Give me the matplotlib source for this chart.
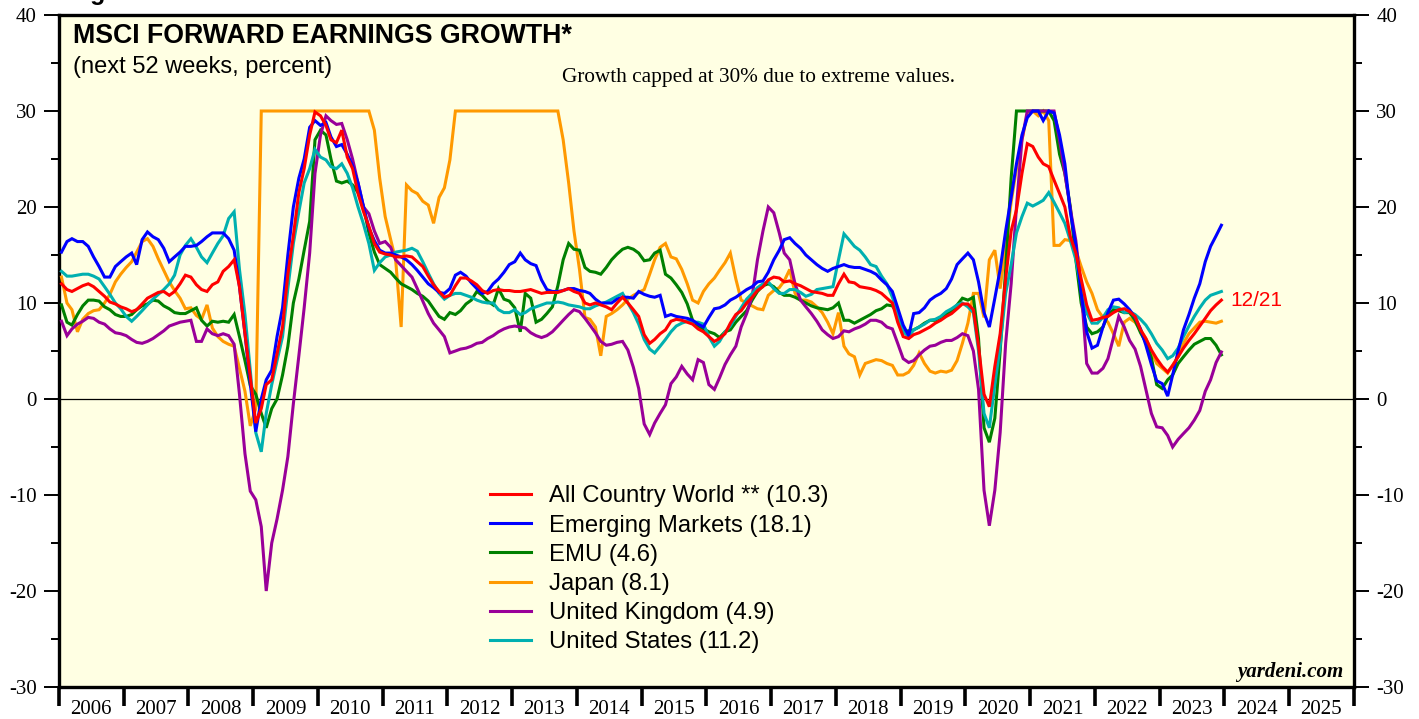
import numpy as np
import pandas as pd
import matplotlib
matplotlib.use("Agg")
import matplotlib.pyplot as plt
import matplotlib.dates as mdates
from matplotlib.ticker import MultipleLocator, NullFormatter

plt.rcParams["font.family"] = ["Liberation Sans", "DejaVu Sans"]
plt.rcParams["axes.unicode_minus"] = False

# monthly observations, Jan 2006 .. Dec 2023 (mid-month)
dates = pd.date_range("2006-01-01", "2023-12-01", freq="MS") + pd.Timedelta(days=14)

acwi = [
    12.0, 11.4, 11.2, 11.5, 11.8, 12.0, 11.7, 11.2, 10.7, 10.1, 9.9, 9.6,
    9.4, 9.1, 9.3, 9.9, 10.5, 10.8, 11.1, 11.2, 10.8, 11.2, 12.0, 12.9,
    12.7, 11.9, 11.4, 11.2, 11.9, 12.2, 13.3, 13.8, 14.5, 11.7, 6.8, 2.3,
    -2.5, -1.0, 1.5, 2.0, 4.7, 7.5, 13.0, 17.0, 21.5, 24.0, 27.5, 29.9,
    29.5, 28.5, 27.0, 26.7, 28.0, 25.2, 24.0, 21.4, 19.5, 18.0, 16.2, 15.3,
    15.1, 15.0, 14.8, 14.8, 14.9, 14.8, 14.3, 13.8, 12.8, 11.9, 11.2, 10.6,
    10.8, 11.8, 12.6, 12.6, 12.3, 11.9, 11.3, 11.0, 11.3, 11.4, 11.3, 11.3,
    11.2, 11.2, 11.3, 11.4, 11.2, 11.0, 11.1, 11.1, 11.1, 11.3, 11.5, 11.2,
    11.0, 10.0, 9.8, 10.0, 9.8, 9.6, 9.3, 10.0, 10.6, 10.0, 9.3, 8.6,
    6.7, 5.8, 6.2, 6.8, 7.2, 8.1, 8.3, 8.2, 8.0, 7.8, 7.3, 7.0,
    6.5, 6.0, 6.3, 6.8, 7.9, 8.8, 9.2, 10.0, 10.6, 11.3, 11.7, 12.4,
    12.7, 12.6, 12.2, 12.3, 12.0, 11.8, 11.5, 11.2, 11.1, 11.0, 10.8, 10.8,
    12.0, 13.0, 12.2, 12.1, 11.7, 11.6, 11.5, 11.3, 11.0, 10.5, 10.0, 8.0,
    6.5, 6.3, 6.7, 6.9, 7.2, 7.5, 7.9, 8.2, 8.6, 8.9, 9.4, 9.9,
    9.9, 9.3, 5.5, 0.5, -0.8, 3.4, 6.8, 12.5, 17.5, 19.7, 23.5, 26.6,
    26.3, 25.2, 24.5, 24.2, 22.8, 21.4, 20.0, 16.9, 15.2, 12.5, 9.8, 8.2,
    8.3, 8.5, 8.6, 9.0, 9.3, 9.4, 9.1, 8.6, 7.2, 6.3, 5.1, 4.2,
    3.4, 2.8, 3.5, 4.4, 5.3, 6.1, 6.8, 7.6, 8.4, 9.2, 9.8, 10.3,
]

em = [
    15.3, 16.4, 16.7, 16.4, 16.4, 15.9, 14.8, 13.8, 12.7, 12.7, 13.8, 14.3,
    14.8, 15.2, 14.0, 16.6, 17.4, 16.9, 16.6, 15.7, 14.3, 14.8, 15.3, 15.9,
    15.9, 16.0, 16.4, 16.9, 17.3, 17.3, 17.3, 16.7, 15.5, 11.7, 6.8, 1.6,
    -3.4, 0.0, 2.0, 3.0, 6.5, 9.5, 15.0, 20.0, 23.0, 25.0, 28.3, 29.0,
    28.5, 28.8, 27.3, 26.3, 26.5, 25.5, 24.3, 22.5, 20.0, 17.8, 16.5, 15.5,
    15.2, 15.2, 15.0, 14.8, 14.5, 14.0, 13.4, 12.7, 12.0, 11.6, 11.1, 11.0,
    11.5, 12.9, 13.2, 12.8, 12.1, 11.5, 11.0, 11.2, 12.0, 12.5, 13.2, 14.0,
    14.3, 15.2, 14.5, 14.1, 13.9, 12.4, 11.4, 11.2, 11.2, 11.3, 11.5, 11.5,
    11.3, 11.2, 11.0, 10.4, 10.0, 10.0, 10.0, 10.4, 10.6, 10.6, 10.5, 11.2,
    10.9, 10.7, 10.6, 10.8, 8.6, 8.8, 8.6, 8.5, 8.4, 8.2, 7.8, 7.5,
    8.5, 9.4, 9.5, 9.8, 10.3, 10.6, 11.0, 11.4, 11.7, 12.2, 12.3, 13.2,
    14.5, 15.5, 16.6, 16.8, 16.2, 15.7, 15.0, 14.5, 14.0, 13.6, 13.3, 13.6,
    13.8, 14.0, 13.8, 13.7, 13.7, 13.5, 13.3, 13.0, 12.4, 11.9, 11.2, 9.5,
    7.7, 6.6, 8.9, 9.0, 9.5, 10.3, 10.7, 11.0, 11.5, 12.5, 14.0, 14.6,
    15.2, 14.5, 12.2, 9.0, 7.5, 10.5, 13.5, 17.5, 21.0, 24.5, 27.5, 29.3,
    30.0, 30.0, 29.0, 30.0, 29.8, 27.5, 24.5, 19.5, 16.0, 11.0, 7.0, 5.3,
    5.6, 7.5, 9.0, 10.3, 10.4, 9.9, 9.3, 8.5, 7.3, 5.6, 3.6, 1.9,
    1.6, 0.3, 2.5, 5.0, 7.2, 8.8, 10.5, 12.0, 14.3, 15.9, 17.0, 18.1,
]

emu = [
    9.8, 8.0, 7.7, 8.8, 9.7, 10.3, 10.3, 10.2, 9.6, 9.3, 8.8, 8.6,
    8.6, 8.8, 9.3, 9.7, 9.9, 10.3, 10.2, 9.7, 9.4, 9.0, 8.9, 8.9,
    9.2, 9.5, 8.2, 7.6, 8.1, 8.0, 8.1, 8.0, 8.8, 6.5, 4.0, 1.4,
    0.5, -1.5, -3.0, -1.0, 0.0, 2.5, 5.5, 10.0, 12.5, 15.5, 18.5, 27.0,
    28.0, 27.5, 25.0, 22.7, 22.5, 22.7, 22.3, 21.5, 20.0, 17.3, 15.3, 14.0,
    13.6, 13.2, 12.6, 12.0, 11.7, 11.4, 11.0, 10.7, 10.2, 9.4, 8.6, 8.3,
    9.0, 8.8, 9.2, 9.9, 10.3, 11.2, 10.8, 10.2, 9.8, 11.5, 10.4, 10.2,
    9.5, 7.0, 11.0, 10.5, 8.0, 8.3, 8.9, 9.6, 11.8, 14.5, 16.2, 15.6,
    15.5, 13.7, 13.3, 13.2, 13.0, 13.7, 14.5, 15.1, 15.6, 15.8, 15.6, 15.2,
    14.4, 14.5, 15.2, 15.5, 13.0, 12.6, 11.9, 11.1, 9.9, 8.2, 7.6, 7.3,
    7.0, 6.8, 6.4, 7.0, 7.2, 8.0, 8.6, 9.2, 10.3, 11.2, 11.8, 12.0,
    11.7, 11.1, 10.8, 10.8, 10.6, 10.3, 10.0, 9.7, 9.5, 9.4, 9.3, 9.5,
    10.0, 8.2, 8.2, 7.9, 8.2, 8.5, 8.8, 9.2, 9.4, 9.8, 9.7, 8.9,
    7.0, 7.1, 7.2, 7.5, 7.9, 8.2, 8.2, 8.5, 8.8, 9.1, 9.8, 10.5,
    10.3, 10.6, 6.3, -3.0, -4.5, -2.0, 5.0, 13.5, 23.0, 30.0, 30.0, 30.0,
    30.0, 30.0, 30.0, 30.0, 29.0, 25.5, 23.5, 20.0, 14.5, 10.0, 7.5, 6.8,
    7.0, 7.5, 8.8, 9.3, 9.2, 9.0, 9.0, 8.2, 6.9, 5.9, 4.3, 1.5,
    1.1, 2.0, 2.5, 3.7, 4.4, 5.1, 5.7, 6.0, 6.3, 6.3, 5.6, 4.6,
]

japan = [
    12.7, 10.0, 9.3, 7.0, 8.3, 8.9, 9.2, 9.3, 10.0, 10.9, 12.2, 13.0,
    13.7, 14.3, 15.3, 16.4, 16.7, 15.9, 14.6, 13.4, 12.2, 11.3, 10.5, 9.4,
    9.5, 8.7, 8.3, 9.8, 7.4, 6.5, 6.0, 5.7, 5.5, 3.2, 0.8, -2.8,
    -1.0, 30.0, 30.0, 30.0, 30.0, 30.0, 30.0, 30.0, 30.0, 30.0, 30.0, 30.0,
    30.0, 30.0, 30.0, 30.0, 30.0, 30.0, 30.0, 30.0, 30.0, 30.0, 28.0, 23.0,
    19.0, 16.6, 14.5, 7.5, 22.3, 21.7, 21.4, 20.6, 20.2, 18.3, 21.0, 22.0,
    24.9, 30.0, 30.0, 30.0, 30.0, 30.0, 30.0, 30.0, 30.0, 30.0, 30.0, 30.0,
    30.0, 30.0, 30.0, 30.0, 30.0, 30.0, 30.0, 30.0, 30.0, 27.0, 22.5, 17.5,
    13.5, 8.5, 8.3, 7.5, 4.5, 8.6, 8.9, 9.3, 9.8, 10.4, 10.8, 11.1,
    11.4, 13.0, 14.5, 15.8, 16.2, 14.8, 14.6, 13.5, 12.0, 10.3, 10.0, 11.2,
    12.0, 12.6, 13.4, 14.2, 15.2, 12.5, 10.3, 10.0, 9.7, 9.4, 9.3, 10.8,
    11.3, 11.6, 12.3, 13.5, 11.0, 10.3, 10.3, 10.1, 9.6, 9.0, 8.0, 6.8,
    9.0, 5.5, 4.7, 4.4, 2.5, 3.7, 3.9, 4.1, 4.0, 3.7, 3.5, 2.5,
    2.5, 2.8, 3.5, 4.8, 3.7, 2.9, 2.7, 2.9, 2.8, 3.0, 4.0, 5.8,
    7.9, 11.0, 11.0, 8.5, 14.5, 15.5, 11.5, 16.0, 20.5, 24.0, 27.0, 29.6,
    30.0, 29.5, 30.0, 29.0, 16.0, 16.0, 16.6, 16.5, 15.5, 13.8, 12.2, 11.0,
    9.3, 8.5, 8.0, 6.8, 5.5, 8.0, 8.4, 8.0, 7.2, 6.3, 5.0, 3.7,
    3.2, 2.7, 3.5, 4.4, 5.8, 6.8, 7.4, 8.0, 8.1, 8.0, 7.9, 8.1,
]

uk = [
    8.1, 6.6, 7.3, 7.8, 8.1, 8.5, 8.4, 8.0, 7.8, 7.3, 6.9, 6.8,
    6.6, 6.2, 5.9, 5.8, 6.0, 6.3, 6.7, 7.1, 7.6, 7.8, 8.0, 8.1,
    8.2, 6.0, 6.0, 7.3, 6.8, 6.6, 6.8, 6.6, 5.7, 0.5, -5.7, -9.6,
    -10.5, -13.3, -20.0, -15.0, -12.5, -9.5, -6.0, -0.5, 4.5, 9.5, 15.2, 23.5,
    27.5, 29.5, 29.0, 28.6, 28.7, 27.0, 25.0, 22.5, 20.0, 19.3, 17.5, 16.2,
    16.4, 15.8, 14.5, 13.9, 13.3, 12.7, 11.5, 10.2, 8.9, 7.9, 7.2, 6.5,
    4.8, 5.0, 5.2, 5.3, 5.5, 5.8, 5.9, 6.3, 6.6, 7.0, 7.3, 7.5,
    7.6, 7.5, 7.4, 6.9, 6.6, 6.4, 6.6, 7.0, 7.6, 8.2, 8.8, 9.3,
    9.1, 8.4, 7.7, 6.9, 6.0, 5.6, 5.7, 5.9, 6.0, 5.1, 3.3, 1.1,
    -2.6, -3.7, -2.5, -1.5, -0.6, 1.6, 2.3, 3.4, 2.6, 2.0, 4.1, 3.8,
    1.5, 1.0, 2.2, 3.6, 4.6, 5.5, 7.5, 8.9, 10.7, 14.5, 17.5, 20.0,
    19.4, 17.3, 15.2, 14.5, 12.0, 10.3, 9.6, 8.9, 8.1, 7.2, 6.7, 6.3,
    6.5, 7.1, 7.0, 7.3, 7.5, 7.8, 8.2, 8.2, 8.0, 7.5, 7.3, 5.8,
    4.2, 3.8, 4.0, 4.6, 5.1, 5.5, 5.6, 5.9, 6.1, 6.1, 6.4, 6.8,
    6.6, 5.0, 1.0, -9.5, -13.2, -9.5, -3.5, 5.8, 12.0, 20.0, 27.0, 30.0,
    30.0, 30.0, 30.0, 30.0, 30.0, 27.0, 23.5, 19.8, 16.5, 11.5, 3.7, 2.7,
    2.7, 3.2, 4.2, 6.4, 8.6, 7.5, 6.1, 5.2, 3.4, 1.0, -1.5, -2.9,
    -3.0, -3.8, -5.0, -4.2, -3.6, -3.0, -2.2, -1.2, 0.8, 2.0, 3.8, 4.9,
]

us = [
    13.3, 12.8, 12.8, 12.9, 13.0, 13.0, 12.8, 12.5, 11.7, 10.9, 10.0, 9.4,
    8.6, 8.1, 8.6, 9.2, 9.8, 10.4, 10.9, 11.4, 12.0, 12.9, 15.0, 16.0,
    16.7, 15.8, 14.8, 14.2, 15.2, 16.2, 17.0, 18.8, 19.5, 13.5, 8.8, 3.0,
    -3.5, -5.5, -1.5, 1.5, 4.0, 6.5, 11.5, 16.2, 19.5, 22.5, 24.0, 26.0,
    25.2, 24.9, 24.2, 24.0, 24.5, 23.5, 22.0, 20.0, 18.2, 16.2, 13.4, 14.2,
    14.8, 15.0, 15.3, 15.4, 15.5, 15.7, 15.4, 14.3, 13.1, 12.0, 11.0, 10.4,
    10.8, 11.0, 11.0, 10.8, 10.6, 10.3, 10.1, 10.0, 10.0, 9.3, 9.0, 9.0,
    9.3, 8.8, 9.0, 9.4, 9.6, 9.8, 10.0, 10.0, 10.1, 10.0, 9.8, 9.7,
    9.6, 9.4, 9.4, 9.7, 9.9, 10.1, 10.4, 10.7, 11.0, 10.0, 9.0, 7.8,
    6.2, 5.2, 4.8, 5.5, 6.2, 7.0, 7.6, 7.9, 8.1, 8.0, 8.0, 7.8,
    6.5, 5.5, 6.0, 7.0, 7.6, 8.6, 9.5, 10.4, 11.0, 11.6, 12.0, 12.2,
    11.5, 11.0, 11.0, 11.4, 11.4, 11.1, 10.7, 10.9, 11.4, 11.5, 11.6, 11.7,
    14.5, 17.2, 16.6, 15.9, 15.5, 14.8, 14.0, 13.8, 12.8, 12.0, 10.6, 9.0,
    7.0, 6.5, 7.2, 7.5, 7.8, 8.2, 8.3, 8.6, 9.1, 9.4, 9.8, 10.0,
    9.6, 9.0, 5.0, -1.5, -3.0, 1.5, 5.5, 11.0, 14.0, 17.3, 19.0, 20.4,
    20.1, 20.4, 20.7, 21.5, 20.5, 19.4, 18.3, 16.5, 14.5, 11.5, 9.0, 7.9,
    7.9, 8.5, 9.3, 9.6, 9.5, 9.0, 9.1, 8.8, 8.3, 7.7, 6.8, 5.8,
    5.1, 4.2, 4.5, 5.3, 6.5, 7.6, 8.6, 9.5, 10.3, 10.8, 11.0, 11.2,
]

series_names = ["All Country World **", "Emerging Markets", "EMU", "Japan",
                "United Kingdom", "United States"]
series_values = [acwi, em, emu, japan, uk, us]
series_colors = ["#FF0000", "#0000FF", "#008000", "#FF9900", "#990099", "#00B0B0"]
draw_order = [3, 2, 4, 5, 1, 0]

fig = plt.figure(figsize=(14.19, 7.19), dpi=100)
ax = fig.add_axes([59 / 1419, 32 / 719, 1295 / 1419, 672 / 719])
ax.set_facecolor("#FFFFE3")

lines = {}
for i in draw_order:
    (ln,) = ax.plot(dates, series_values[i], color=series_colors[i], lw=2.2,
                    label=f"{series_names[i]} ({series_values[i][-1]:.1f})",
                    zorder=3 + draw_order.index(i), solid_joinstyle="miter")
    lines[i] = ln

ax.axhline(0, color="black", lw=0.9, zorder=2)

ax.set_xlim(pd.Timestamp("2006-01-01"), pd.Timestamp("2026-01-01"))
ax.set_ylim(-30, 40)

for s in ax.spines.values():
    s.set_linewidth(2.4)

ax.yaxis.set_major_locator(MultipleLocator(10))
ax.yaxis.set_minor_locator(MultipleLocator(5))
ax.tick_params(axis="y", which="major", direction="out", length=11, width=1.4,
               left=True, right=True, labelleft=True, labelright=True,
               labelsize=15, pad=5, labelfontfamily="Liberation Serif")
ax.tick_params(axis="y", which="minor", direction="out", length=6, width=1.4,
               left=True, right=True)

ax.xaxis.set_major_locator(mdates.YearLocator())
ax.xaxis.set_major_formatter(NullFormatter())
ax.xaxis.set_minor_locator(mdates.MonthLocator(bymonth=7))
ax.xaxis.set_minor_formatter(mdates.DateFormatter("%Y"))
ax.tick_params(axis="x", which="major", direction="out", length=14, width=2.6,
               top=False)
ax.tick_params(axis="x", which="minor", length=0, labelsize=15, pad=9,
               labelfontfamily="Liberation Serif")

ax.text(0.0108, 0.9583, "MSCI FORWARD EARNINGS GROWTH*", transform=ax.transAxes,
        fontsize=19.3, fontweight="bold", va="baseline", ha="left")
ax.text(0.0108, 0.9135, "(next 52 weeks, percent)", transform=ax.transAxes,
        fontsize=17, va="baseline", ha="left")
ax.text(0.3884, 0.900, "Growth capped at 30% due to extreme values.",
        transform=ax.transAxes, fontsize=15.3, va="baseline", ha="left",
        family="Liberation Serif")
ax.text(0.9915, 0.0149, "yardeni.com", transform=ax.transAxes, fontsize=15,
        fontweight="bold", style="italic", family="Liberation Serif",
        ha="right", va="baseline")
ax.text(pd.Timestamp("2024-02-01"), acwi[-1], "12/21", color="#FF0000",
        fontsize=15, va="center", ha="left")

fig.text(68 / 1419, 1.0, "Figure 1.", fontsize=18, fontweight="bold",
         va="baseline", ha="left")

handles = [lines[i] for i in range(6)]
ax.legend(handles=handles, loc="upper left", bbox_to_anchor=(0.333, 0.300),
          frameon=False, fontsize=17.2, handlelength=1.7, handletextpad=0.76,
          labelspacing=0.3, borderaxespad=0, borderpad=0)

fig.savefig("out.png", dpi=100)
